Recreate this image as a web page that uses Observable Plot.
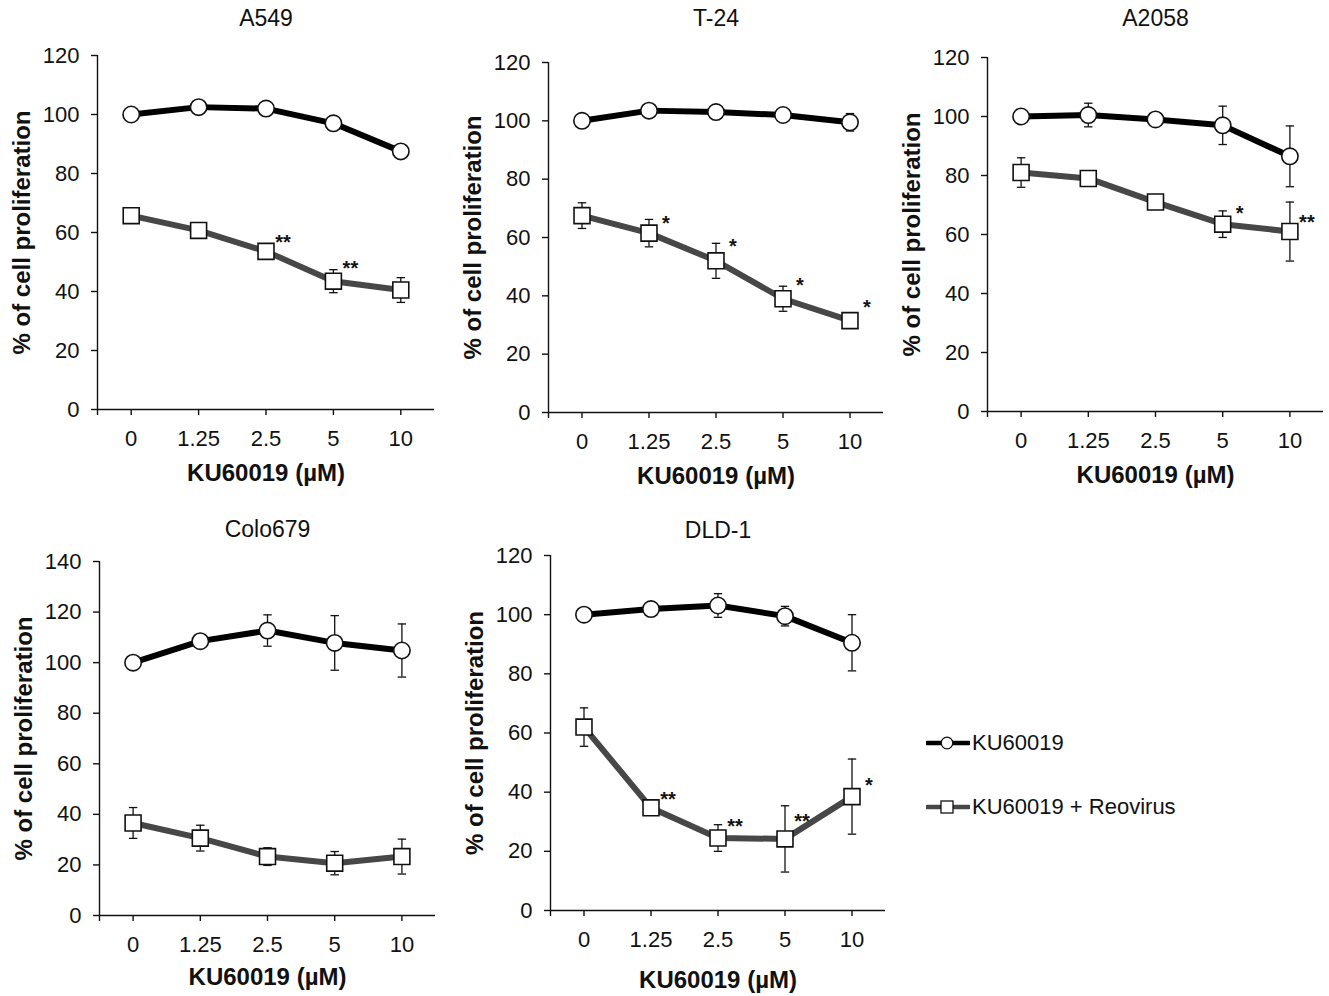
<!DOCTYPE html>
<html>
<head>
<meta charset="utf-8">
<script src="https://cdn.jsdelivr.net/npm/d3@7"></script>
<script src="https://cdn.jsdelivr.net/npm/@observablehq/plot@0.6"></script>
<style>
  html, body { margin: 0; padding: 0; background: #fff; }
  #wrap { position: relative; width: 1329px; height: 996px; background: #fff; overflow: hidden; font-family: "Liberation Sans", Arial, Helvetica, sans-serif; }
  .legend-row { position: absolute; display: flex; align-items: center; font-size: 22px; color: #111; font-family: "Liberation Sans", Arial, sans-serif; }
</style>
</head>
<body>
<div id="wrap"></div>
<script>
// ---------------- DATA ----------------
const doses = ["0", "1.25", "2.5", "5", "10"];
const seriesNames = ["KU60019", "KU60019 + Reovirus"];
const xLabel = "KU60019 (µM)";
const yLabel = "% of cell proliferation";

// A549
const a549Ku = [100, 102.5, 102, 97, 87.5];
const a549KuErr = [0, 0, 0, 0, 0];
const a549Reo = [65.7, 60.7, 53.6, 43.5, 40.5];
const a549ReoErr = [0, 0, 0, 3.9, 4.2];
const a549Stars = ["", "", "**", "**", ""];
const a549StarY = [null, null, 58.3, 49.5, null];

// T-24
const t24Ku = [100, 103.5, 103, 102, 99.5];
const t24KuErr = [0, 0, 0, 0, 3];
const t24Reo = [67.5, 61.5, 52, 39, 31.5];
const t24ReoErr = [4.4, 4.7, 6, 4.3, 0];
const t24Stars = ["", "*", "*", "*", "*"];
const t24StarY = [null, 66.5, 58.6, 45.3, 37.7];

// A2058
const a2058Ku = [100, 100.5, 99, 97, 86.5];
const a2058KuErr = [0, 4, 0, 6.5, 10.3];
const a2058Reo = [81, 79, 71, 63.5, 61];
const a2058ReoErr = [5, 0, 2.5, 4.5, 10];
const a2058Stars = ["", "", "", "*", "**"];
const a2058StarY = [null, null, null, 68.8, 65.8];

// Colo679
const colo679Ku = [100, 108.5, 112.7, 107.8, 104.8];
const colo679KuErr = [0, 0, 6.2, 10.8, 10.5];
const colo679Reo = [36.6, 30.6, 23.3, 20.7, 23.3];
const colo679ReoErr = [6.1, 5.1, 3.5, 4.6, 6.9];
const colo679Stars = ["", "", "", "", ""];
const colo679StarY = [null, null, null, null, null];

// DLD-1
const dld1Ku = [100, 101.9, 103.1, 99.5, 90.5];
const dld1KuErr = [0, 0, 4, 3.3, 9.5];
const dld1Reo = [62, 34.7, 24.5, 24.2, 38.5];
const dld1ReoErr = [6.5, 0, 4.5, 11.2, 12.7];
const dld1Stars = ["", "**", "**", "**", "*"];
const dld1StarY = [null, 39.2, 30.1, 31.8, 43.9];

const yTicks120 = [0, 20, 40, 60, 80, 100, 120];
const yTicks140 = [0, 20, 40, 60, 80, 100, 120, 140];

// ---------------- LAYOUT / STYLE ----------------
const kuColor = "#000000";
const reoColor = "#474747";
const mL = 95, mT = 50, mR = 10, mB = 85;

const capSymbol = {
  draw(ctx, size) {
    const r = Math.sqrt(size / Math.PI);
    ctx.moveTo(-r, 0);
    ctx.lineTo(r, 0);
  }
};

function panel(cfg) {
  const rows = doses.map((d, i) => ({
    i,
    ku: cfg.ku[i], kuErr: cfg.kuErr[i],
    reo: cfg.reo[i], reoErr: cfg.reoErr[i],
    star: cfg.stars[i], starY: cfg.starY[i]
  }));
  const kuErrRows = rows.filter(d => d.kuErr > 0);
  const reoErrRows = rows.filter(d => d.reoErr > 0);
  const starRows = rows.filter(d => d.star);
  const W = cfg.fw, H = cfg.fh;
  const errStyle = { stroke: "#111", strokeWidth: 1.3 };
  const capStyle = { symbol: capSymbol, r: 4.2, stroke: "#111", strokeWidth: 1.3, fill: "none" };
  const svg = Plot.plot({
    width: mL + W + mR,
    height: mT + H + mB,
    marginLeft: mL, marginTop: mT, marginRight: mR, marginBottom: mB,
    style: { background: "transparent", fontFamily: "'Liberation Sans', Arial, Helvetica, sans-serif", overflow: "visible" },
    x: { type: "linear", domain: [-0.5, doses.length - 0.5] },
    y: { domain: [0, cfg.ymax] },
    marks: [
      // axes
      Plot.axisX({ ticks: d3.range(doses.length), tickFormat: i => doses[i], tickSize: 6, tickPadding: 15, fontSize: 22, label: null, stroke: "#111", strokeWidth: 1.4, fill: "#111" }),
      Plot.axisY({ ticks: cfg.yticks, tickSize: 6, tickPadding: 12, fontSize: 22, label: null, stroke: "#111", strokeWidth: 1.4, fill: "#111" }),
      Plot.ruleY([0], { stroke: "#111", strokeWidth: 1.4 }),
      Plot.ruleX([-0.5], { stroke: "#111", strokeWidth: 1.4, insetBottom: -6 }),
      // labels
      Plot.text([cfg.title], { text: d => d, frameAnchor: "top", lineAnchor: "middle", textAnchor: "middle", dy: -cfg.titleOff, fontSize: 23, fill: "#111" }),
      Plot.text([yLabel], { text: d => d, frameAnchor: "left", textAnchor: "middle", lineAnchor: "middle", rotate: -90, dx: -75, fontSize: 24, fontWeight: "bold", fill: "#111" }),
      Plot.text([xLabel], { text: d => d, frameAnchor: "bottom", textAnchor: "middle", lineAnchor: "middle", dy: cfg.xLabOff, fontSize: 24, fontWeight: "bold", fill: "#111" }),
      // lines
      Plot.line(rows, { x: "i", y: "ku", stroke: kuColor, strokeWidth: 6, strokeLinejoin: "round" }),
      Plot.line(rows, { x: "i", y: "reo", stroke: reoColor, strokeWidth: 6, strokeLinejoin: "round" }),
      // error bars
      Plot.ruleX(kuErrRows, { x: "i", y1: d => d.ku - d.kuErr, y2: d => d.ku + d.kuErr, ...errStyle }),
      Plot.dot(kuErrRows, { x: "i", y: d => d.ku + d.kuErr, ...capStyle }),
      Plot.dot(kuErrRows, { x: "i", y: d => d.ku - d.kuErr, ...capStyle }),
      Plot.ruleX(reoErrRows, { x: "i", y1: d => d.reo - d.reoErr, y2: d => d.reo + d.reoErr, ...errStyle }),
      Plot.dot(reoErrRows, { x: "i", y: d => d.reo + d.reoErr, ...capStyle }),
      Plot.dot(reoErrRows, { x: "i", y: d => d.reo - d.reoErr, ...capStyle }),
      // markers
      Plot.dot(rows, { x: "i", y: "ku", symbol: "circle", r: 8.2, fill: "white", stroke: "#111", strokeWidth: 1.6 }),
      Plot.dot(rows, { x: "i", y: "reo", symbol: "square", r: 9, fill: "white", stroke: "#111", strokeWidth: 1.6 }),
      // significance stars
      Plot.text(starRows, { x: "i", y: "starY", text: "star", dx: 17, dy: 5, fontSize: 20, fontWeight: "bold", fill: "#111" })
    ]
  });
  svg.style.position = "absolute";
  svg.style.left = (cfg.left - mL) + "px";
  svg.style.top = (cfg.top - mT) + "px";
  svg.style.maxWidth = "none";
  return svg;
}

const wrap = document.getElementById("wrap");
const cfgs = [
  { title: "A549", ku: a549Ku, kuErr: a549KuErr, reo: a549Reo, reoErr: a549ReoErr, stars: a549Stars, starY: a549StarY, ymax: 120, yticks: yTicks120, left: 97, top: 55, fw: 337, fh: 354, titleOff: 37, xLabOff: 64 },
  { title: "T-24", ku: t24Ku, kuErr: t24KuErr, reo: t24Reo, reoErr: t24ReoErr, stars: t24Stars, starY: t24StarY, ymax: 120, yticks: yTicks120, left: 548, top: 62, fw: 335, fh: 350, titleOff: 44, xLabOff: 64 },
  { title: "A2058", ku: a2058Ku, kuErr: a2058KuErr, reo: a2058Reo, reoErr: a2058ReoErr, stars: a2058Stars, starY: a2058StarY, ymax: 120, yticks: yTicks120, left: 987, top: 57, fw: 336, fh: 354, titleOff: 39, xLabOff: 64 },
  { title: "Colo679", ku: colo679Ku, kuErr: colo679KuErr, reo: colo679Reo, reoErr: colo679ReoErr, stars: colo679Stars, starY: colo679StarY, ymax: 140, yticks: yTicks140, left: 99, top: 561, fw: 336, fh: 354, titleOff: 32, xLabOff: 62 },
  { title: "DLD-1", ku: dld1Ku, kuErr: dld1KuErr, reo: dld1Reo, reoErr: dld1ReoErr, stars: dld1Stars, starY: dld1StarY, ymax: 120, yticks: yTicks120, left: 550, top: 555, fw: 335, fh: 355, titleOff: 25, xLabOff: 70 }
];
cfgs.forEach(c => wrap.appendChild(panel(c)));

// ---------------- LEGEND ----------------
const legendRows = [
  { name: seriesNames[0], color: kuColor, shape: "circle", top: 743 },
  { name: seriesNames[1], color: reoColor, shape: "square", top: 807 }
];
legendRows.forEach(r => {
  const row = document.createElement("div");
  row.className = "legend-row";
  row.style.left = "926px";
  row.style.top = (r.top - 15) + "px";
  row.style.height = "30px";
  const marker = r.shape === "circle"
    ? `<circle cx="21" cy="15" r="5.8" fill="white" stroke="#111" stroke-width="1.3"/>`
    : `<rect x="15" y="9" width="12" height="12" fill="white" stroke="#111" stroke-width="1.3"/>`;
  row.innerHTML = `<svg width="44" height="30" style="display:block"><line x1="1" y1="15" x2="43" y2="15" stroke="${r.color}" stroke-width="4.5" stroke-linecap="round"/>${marker}</svg><span style="margin-left:2px">${r.name}</span>`;
  wrap.appendChild(row);
});
</script>
</body>
</html>
